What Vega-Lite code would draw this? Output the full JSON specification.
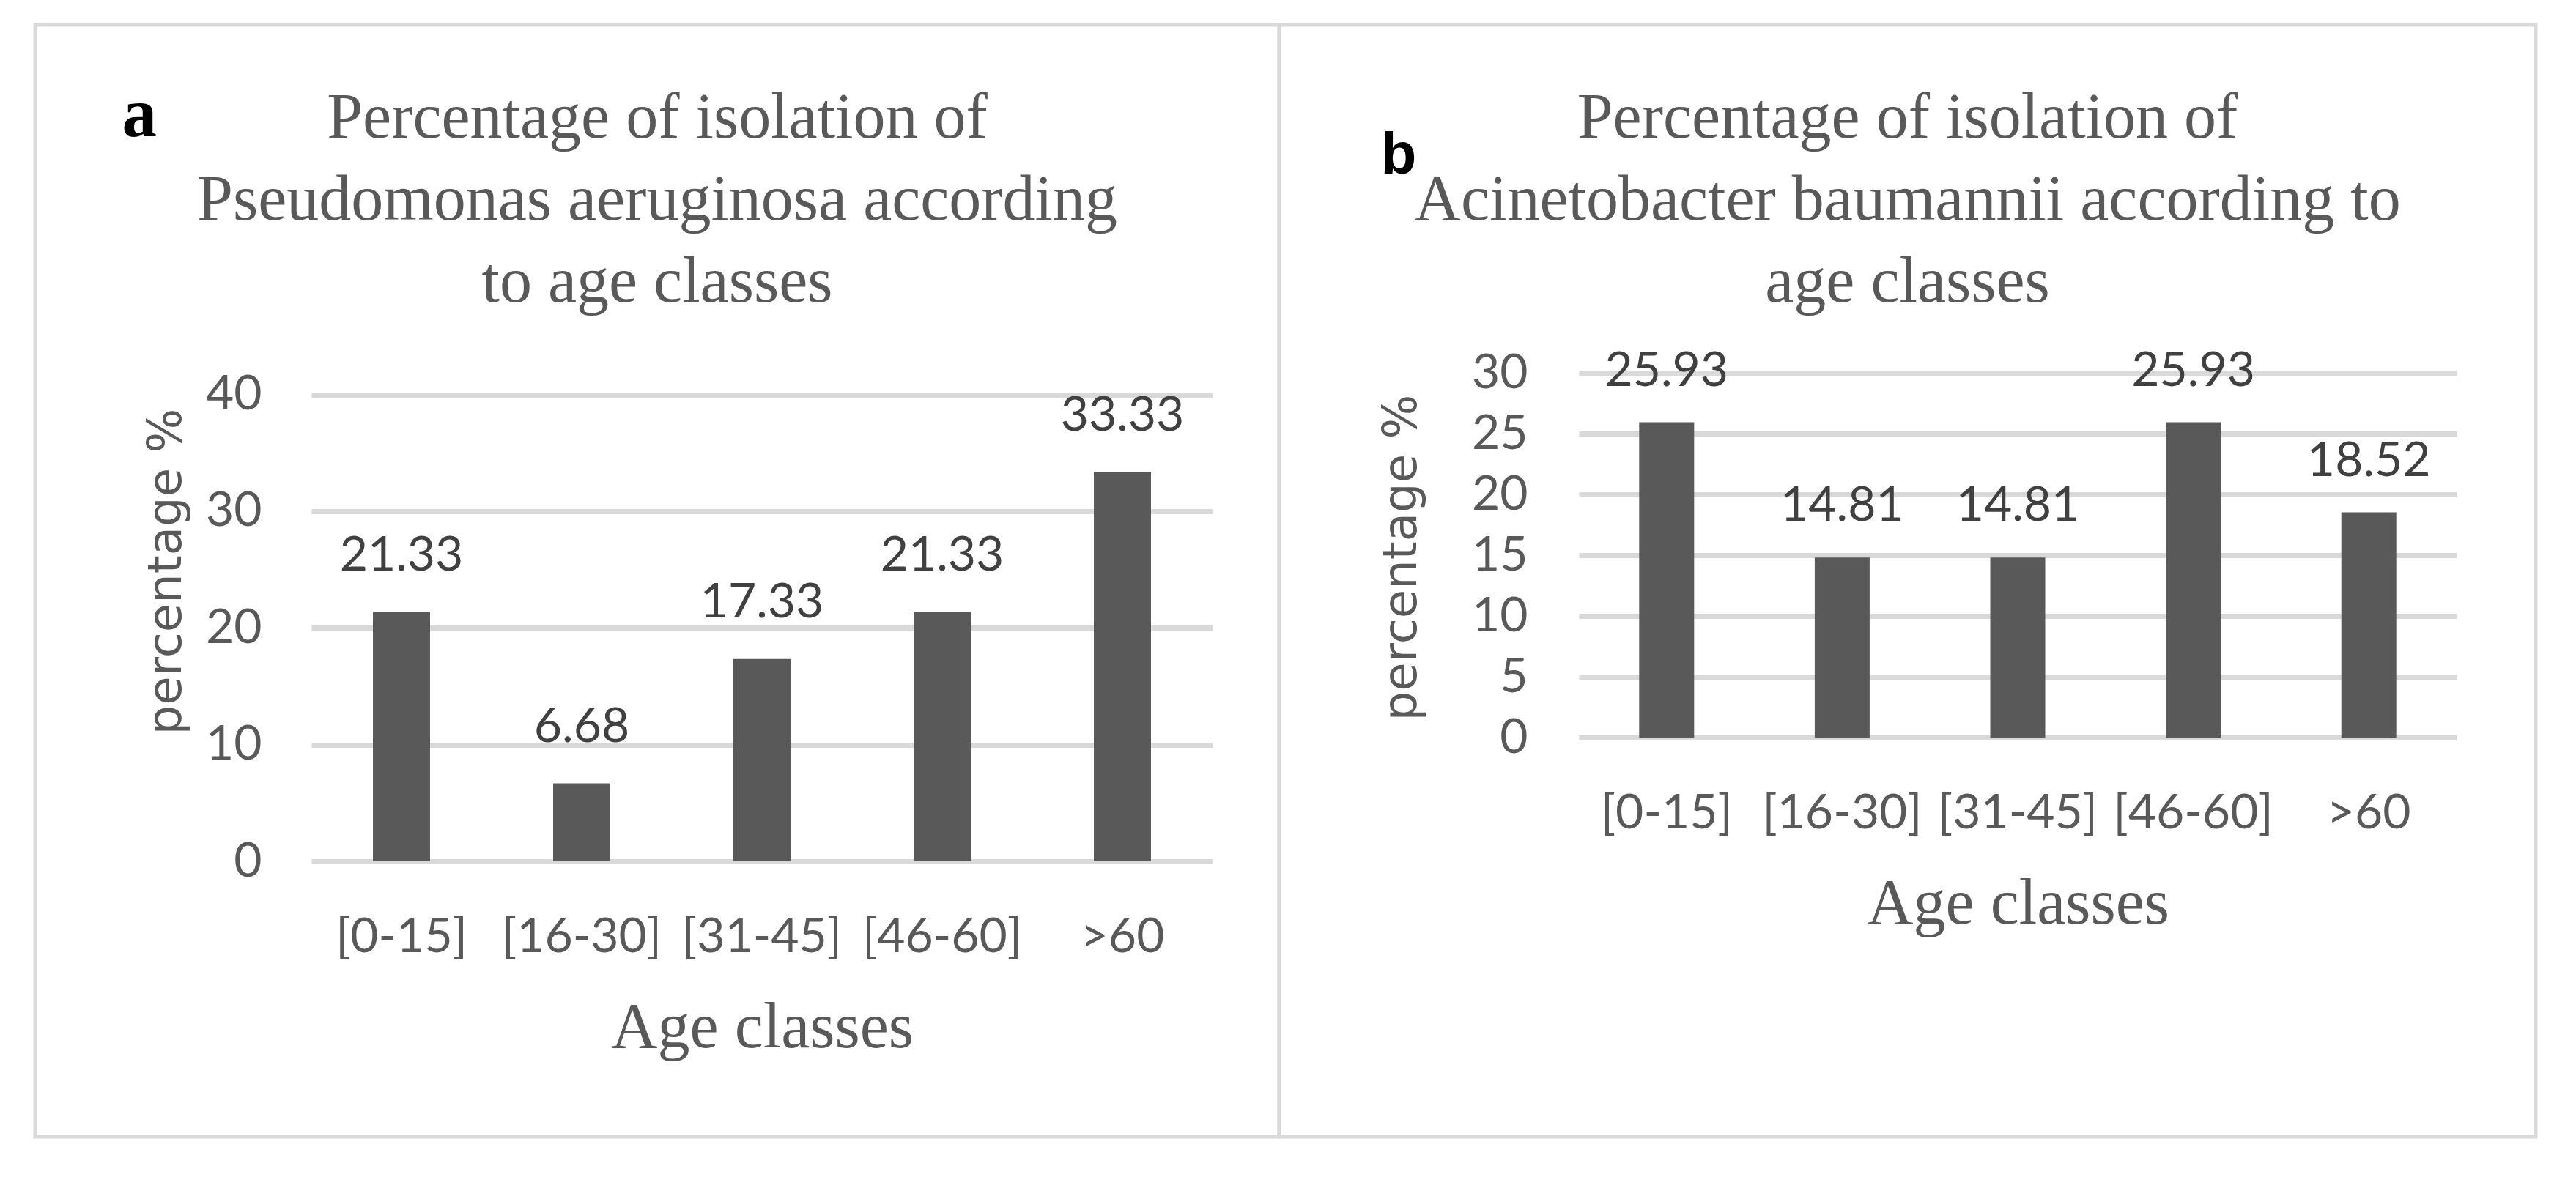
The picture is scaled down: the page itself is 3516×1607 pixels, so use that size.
{
  "$schema": "https://vega.github.io/schema/vega-lite/v6.json",
  "background": "white",
  "padding": {"left": 45, "top": 31, "right": 0, "bottom": 0},
  "datasets": {
    "pa": [
      {"age": "[0-15]", "value": 21.33},
      {"age": "[16-30]", "value": 6.68},
      {"age": "[31-45]", "value": 17.33},
      {"age": "[46-60]", "value": 21.33},
      {"age": ">60", "value": 33.33}
    ],
    "pb": [
      {"age": "[0-15]", "value": 25.93},
      {"age": "[16-30]", "value": 14.81},
      {"age": "[31-45]", "value": 14.81},
      {"age": "[46-60]", "value": 25.93},
      {"age": ">60", "value": 18.52}
    ]
  },
  "spacing": 0,
  "bounds": "flush",
  "hconcat": [
    {
      "width": 1698,
      "height": 1518,
      "data": {"name": "pa"},
      "title": {"text": ["Percentage of isolation of", "Pseudomonas aeruginosa according", "to age classes"]},
      "encoding": {
        "x": {
          "field": "age", "type": "nominal", "sort": null,
          "scale": {"range": [377, 1607], "paddingInner": 0.683, "paddingOuter": 0.3415},
          "axis": {"orient": "bottom", "offset": -376, "labelPadding": 71, "labelAngle": 0, "labelLimit": 600, "labelOverlap": false, "title": "Age classes", "titlePadding": 47, "grid": false}
        },
        "y": {
          "field": "value", "type": "quantitative",
          "scale": {"domain": [0, 40], "range": [1142, 504.5], "nice": false},
          "axis": {"values": [0, 10, 20, 30, 40], "offset": -377, "labelPadding": 68, "grid": true, "title": "percentage %", "titleFont": "DejaVu Sans", "titleFontSize": 64, "titleAngle": 270, "titleBaseline": "bottom", "titleX": -165.6, "titleY": 746}
        }
      },
      "layer": [
        {"mark": {"type": "bar", "color": "#595959"}},
        {
          "mark": {"type": "text", "font": "Lato", "fontSize": 66, "color": "#404040", "baseline": "alphabetic", "dy": -57},
          "encoding": {
            "text": {"field": "value", "type": "quantitative", "format": ".2f"},
            "x": {"field": "age", "type": "nominal", "sort": null,
              "axis": {"orient": "top", "labels": false, "ticks": false, "domain": false, "grid": false, "title": "a", "titleX": 118, "titleY": 151, "titleAlign": "left", "titleBaseline": "alphabetic", "titleAngle": 0, "titleFont": "Liberation Serif", "titleFontWeight": "bold", "titleFontSize": 95, "titleColor": "#000000"}}
          }
        }
      ],
      "resolve": {"axis": {"x": "independent"}}
    },
    {
      "width": 1715,
      "height": 1518,
      "data": {"name": "pb"},
      "title": {"text": ["Percentage of isolation of", "Acinetobacter baumannii according to", "age classes"]},
      "encoding": {
        "x": {
          "field": "age", "type": "nominal", "sort": null,
          "scale": {"range": [409, 1607], "paddingInner": 0.687, "paddingOuter": 0.3435},
          "axis": {"orient": "bottom", "offset": -545, "labelPadding": 71, "labelAngle": 0, "labelLimit": 600, "labelOverlap": false, "title": "Age classes", "titlePadding": 47, "grid": false}
        },
        "y": {
          "field": "value", "type": "quantitative",
          "scale": {"domain": [0, 30], "range": [973, 475], "nice": false},
          "axis": {"values": [0, 5, 10, 15, 20, 25, 30], "offset": -409, "labelPadding": 70, "grid": true, "title": "percentage %", "titleFont": "DejaVu Sans", "titleFontSize": 64, "titleAngle": 270, "titleBaseline": "bottom", "titleX": -209.6, "titleY": 727}
        }
      },
      "layer": [
        {"mark": {"type": "bar", "color": "#595959"}},
        {
          "mark": {"type": "text", "font": "Lato", "fontSize": 66, "color": "#404040", "baseline": "alphabetic", "dy": -50},
          "encoding": {
            "text": {"field": "value", "type": "quantitative", "format": ".2f"},
            "x": {"field": "age", "type": "nominal", "sort": null,
              "axis": {"orient": "top", "labels": false, "ticks": false, "domain": false, "grid": false, "title": "b", "titleX": 138, "titleY": 202, "titleAlign": "left", "titleBaseline": "alphabetic", "titleAngle": 0, "titleFont": "Liberation Sans", "titleFontWeight": "bold", "titleFontSize": 80, "titleColor": "#000000"}}
          }
        }
      ],
      "resolve": {"axis": {"x": "independent"}}
    }
  ],
  "config": {
    "view": {"stroke": "#d9d9d9", "strokeWidth": 5},
    "axis": {
      "labelFont": "Lato", "labelFontSize": 66, "labelColor": "#595959",
      "ticks": false, "tickSize": 0, "domain": false,
      "gridColor": "#d9d9d9", "gridWidth": 7,
      "titleFont": "Liberation Serif", "titleFontSize": 88, "titleFontWeight": "normal", "titleColor": "#595959"
    },
    "title": {"font": "Liberation Serif", "fontSize": 88, "fontWeight": "normal", "color": "#595959", "lineHeight": 112, "offset": -396, "anchor": "middle"}
  }
}
